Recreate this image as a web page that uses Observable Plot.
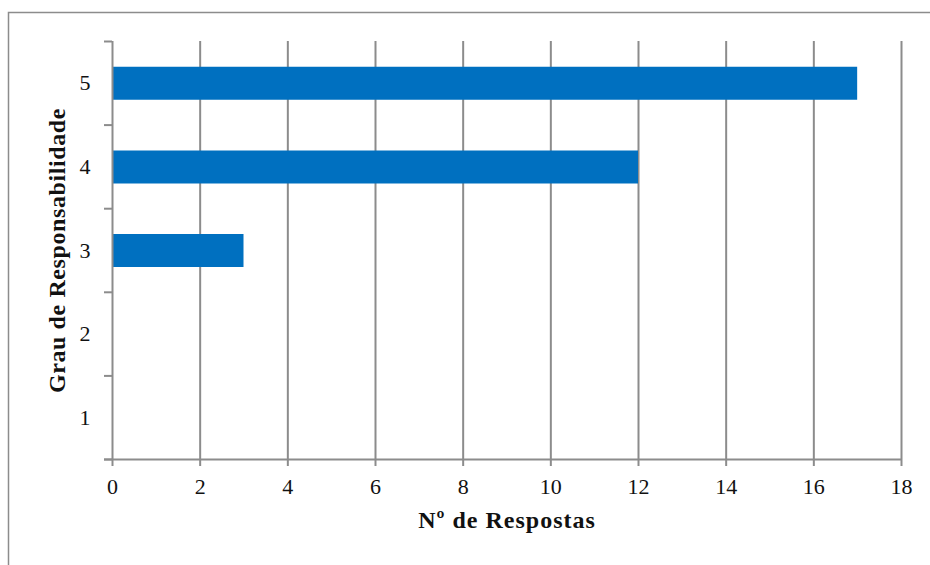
<!DOCTYPE html>
<html>
<head>
<meta charset="utf-8">
<script src="https://cdn.jsdelivr.net/npm/d3@7"></script>
<script src="https://cdn.jsdelivr.net/npm/@observablehq/plot@0.6"></script>
<style>
  html, body { margin: 0; padding: 0; background: #fff; }
  #chart { width: 930px; height: 565px; overflow: hidden; }
  svg { display: block; }
</style>
</head>
<body>
<div id="chart"></div>
<script>
// Data
const categories = [1, 2, 3, 4, 5];
const respostas = [0, 0, 3, 12, 17];
const xTicks = [0, 2, 4, 6, 8, 10, 12, 14, 16, 18];
const yBoundaries = [0.5, 1.5, 2.5, 3.5, 4.5, 5.5];
const xTitle = "Nº de Respostas";
const yTitle = "Grau de Responsabilidade";

const data = categories.map((c, i) => ({grau: c, n: respostas[i]}));

const font = "'Liberation Serif', 'Times New Roman', serif";
const grid = "#8c8c8c";

const plot = Plot.plot({
  width: 930,
  height: 565,
  marginLeft: 112,
  marginRight: 29,
  marginTop: 41,
  marginBottom: 106,
  style: {fontFamily: font, fontSize: "22px", color: "#111", background: "#fff"},
  x: {domain: [0, 18], ticks: xTicks, label: null},
  y: {domain: [0.5, 5.5], label: null},
  marks: [
    Plot.ruleX(xTicks.slice(1), {stroke: grid, strokeWidth: 2}),
    Plot.ruleY(data.filter(d => d.n > 0), {
      y: "grau", x1: 0, x2: "n", stroke: "#0070C0", strokeWidth: 33
    }),
    // y axis line
    Plot.ruleX([0], {stroke: grid, strokeWidth: 2}),
    // x baseline extended to left tick
    Plot.ruleY([0.5], {stroke: grid, strokeWidth: 2, x1: 0, x2: 18, insetLeft: -8}),
    Plot.axisX({ticks: xTicks, tickSize: 7, tickPadding: 12, tickFormat: d3.format("d"), stroke: grid, strokeWidth: 2, fontSize: 22, fill: "#111", label: null}),
    Plot.axisY({ticks: yBoundaries, tickSize: 8, tickFormat: () => "", stroke: grid, strokeWidth: 2, label: null}),
    Plot.axisY({ticks: categories, tickSize: 0, tickPadding: 22, tickFormat: d3.format("d"), fontSize: 22, fill: "#111", label: null}),
    Plot.text([xTitle], {
      frameAnchor: "bottom", dy: 68, text: d => d, fontWeight: "bold", fontSize: 24, fill: "#111",
      letterSpacing: "1px"
    }),
    Plot.text([yTitle], {
      frameAnchor: "left", textAnchor: "middle", dx: -55, rotate: -90, text: d => d,
      fontWeight: "bold", fontSize: 24, fill: "#111", letterSpacing: "0.6px"
    })
  ]
});

document.getElementById("chart").appendChild(plot);

// letter spacing for titles (style only)
d3.select(plot).selectAll("text").filter(function() {
  return this.textContent === xTitle || this.textContent === yTitle;
}).style("letter-spacing", function() { return this.textContent === xTitle ? "1px" : "0.6px"; });

// outer chart border (left/top edges visible)
d3.select(plot).insert("rect", ":first-child")
  .attr("x", 8.5).attr("y", 12.5).attr("width", 1000).attr("height", 1000)
  .attr("fill", "none").attr("stroke", "#8c8c8c").attr("stroke-width", 1.5);
</script>
</body>
</html>
